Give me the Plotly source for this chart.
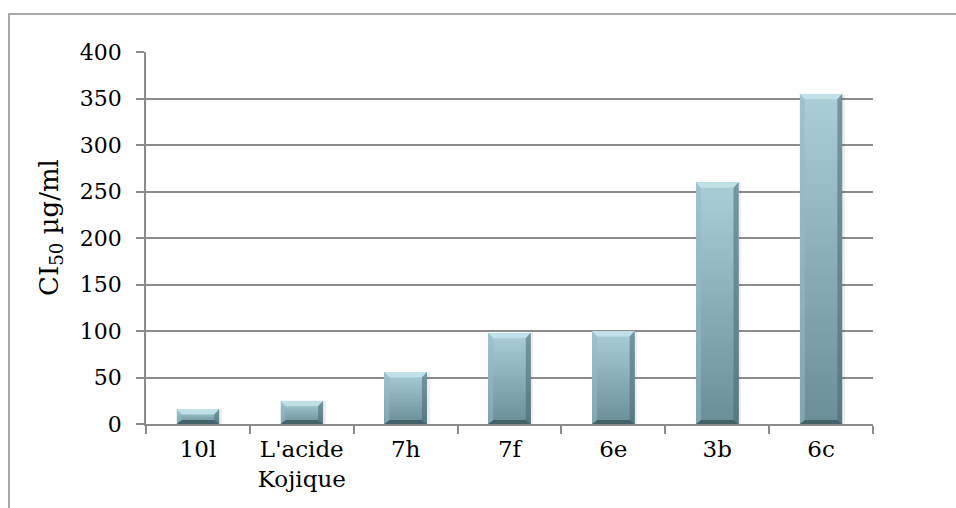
import plotly.graph_objects as go

# IC50 values per compound (µg/ml)
categories = ["10l", "L'acide<br>Kojique", "7h", "7f", "6e", "3b", "6c"]
ic50_values = [16, 25, 56, 98, 100, 260, 355]
y_ticks = [0, 50, 100, 150, 200, 250, 300, 350, 400]

FONT = "DejaVu Serif"
GRID = "#8c8c8c"
W, H = 956, 508
L, R, T, B = 146, 83, 52, 84
plot_w = W - L - R
plot_h = H - T - B

positions = list(range(len(categories)))
bar_w = 0.41
half = bar_w / 2

def lerp(c1, c2, t):
    a = [int(c1[i:i + 2], 16) for i in (1, 3, 5)]
    b = [int(c2[i:i + 2], 16) for i in (1, 3, 5)]
    return "rgb({},{},{})".format(*[round(a[k] + (b[k] - a[k]) * t) for k in range(3)])

fig = go.Figure()

# soft drop shadow to the right of each bar
fig.add_trace(go.Bar(
    x=[p + 0.025 for p in positions], y=ic50_values, width=bar_w,
    marker=dict(color="rgba(0,0,0,0.07)", line=dict(width=0)),
    hoverinfo="skip", showlegend=False,
))

# vertical gradient: light at the top, darker toward the base
TOP, BOTTOM = "#a9ced7", "#6b8f98"
steps = 40
for k in range(steps):
    frac = 1 - k / steps
    fig.add_trace(go.Bar(
        x=positions, y=[v * frac for v in ic50_values], width=bar_w,
        marker=dict(color=lerp(TOP, BOTTOM, k / (steps - 1)), line=dict(width=0)),
        hoverinfo="skip", showlegend=False,
    ))

# bevelled edges
bx = 5 / (plot_w / len(categories))   # ~5 px in x units
by_top = 5.5 * 400 / plot_h            # ~5.5 px in y units
by_bot = 4 * 400 / plot_h
shapes = []
for p, v in zip(positions, ic50_values):
    x0, x1 = p - half, p + half
    bt = min(by_top, v * 0.4)
    bb = min(by_bot, v * 0.3)
    faces = [
        (f"M {x0},{v} L {x1},{v} L {x1 - bx},{v - bt} L {x0 + bx},{v - bt} Z", "rgba(196,228,235,0.85)"),
        (f"M {x0},0 L {x1},0 L {x1 - bx},{bb} L {x0 + bx},{bb} Z", "rgba(62,92,100,0.9)"),
        (f"M {x0},0 L {x0},{v} L {x0 + bx},{v - bt} L {x0 + bx},{bb} Z", "rgba(150,185,194,0.55)"),
        (f"M {x1},0 L {x1},{v} L {x1 - bx},{v - bt} L {x1 - bx},{bb} Z", "rgba(70,105,114,0.55)"),
    ]
    for path, col in faces:
        shapes.append(dict(type="path", path=path, xref="x", yref="y",
                           fillcolor=col, line=dict(width=0), layer="above"))

# outer frame of the chart
px = lambda x: (x - L) / plot_w
py = lambda y: (H - B - y) / plot_h
shapes.append(dict(type="rect", xref="paper", yref="paper",
                   x0=px(9), x1=px(970), y0=py(520), y1=py(14),
                   line=dict(color="#8c8c8c", width=1.5), fillcolor="rgba(0,0,0,0)",
                   layer="below"))

fig.update_layout(
    width=W, height=H,
    margin=dict(l=L, r=R, t=T, b=B, autoexpand=False),
    paper_bgcolor="white", plot_bgcolor="white",
    barmode="overlay", bargap=0,
    font=dict(family=FONT, size=22, color="black"),
    shapes=shapes,
    annotations=[dict(
        text="CI<sub>50</sub> µg/ml", textangle=-90,
        xref="paper", yref="paper", x=px(50), y=py(228),
        xanchor="center", yanchor="middle", showarrow=False,
        font=dict(family=FONT, size=26, color="black"),
    )],
)

fig.update_xaxes(
    range=[-0.5, len(categories) - 0.5],
    tickmode="array", tickvals=positions, ticktext=categories,
    ticks="", ticklabelstandoff=4,
    tickfont=dict(size=23),
    minor=dict(tickmode="array", tickvals=[p - 0.5 for p in positions] + [len(categories) - 0.5],
               ticks="outside", ticklen=8, tickcolor=GRID, tickwidth=1.5, showgrid=False),
    showline=True, linecolor=GRID, linewidth=1.5,
    showgrid=False, zeroline=False, fixedrange=True,
)
fig.update_yaxes(
    range=[0, 400], tickmode="array", tickvals=y_ticks,
    ticks="outside", ticklen=8, tickcolor=GRID, tickwidth=1.5,
    ticklabelstandoff=10,
    showline=True, linecolor=GRID, linewidth=1.5,
    showgrid=True, gridcolor=GRID, gridwidth=1.5, zeroline=False, fixedrange=True,
)

fig.write_html("out.html")
